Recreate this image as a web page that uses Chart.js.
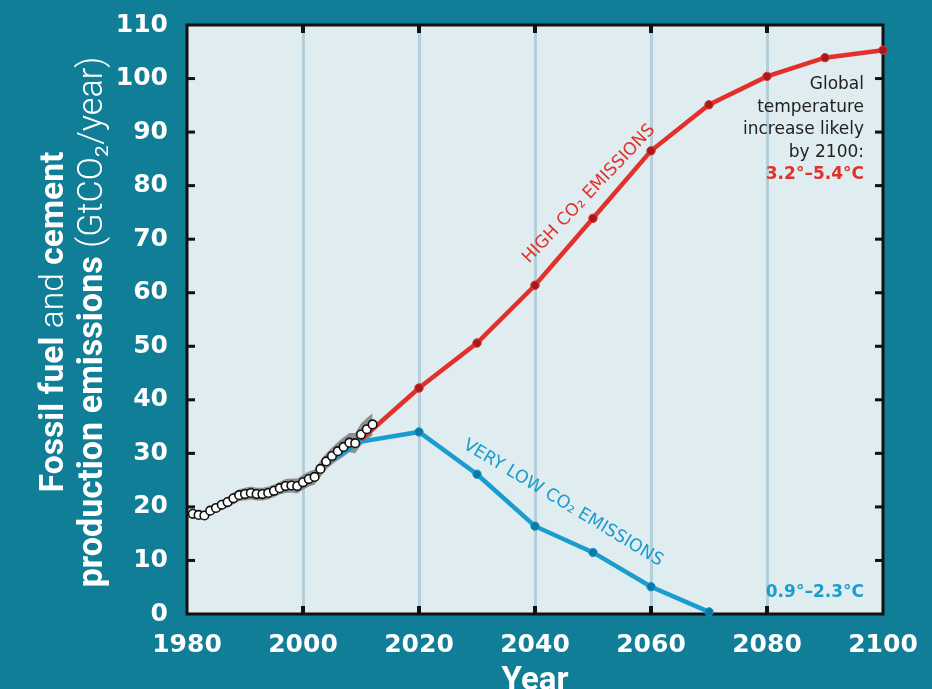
<!DOCTYPE html>
<html><head><meta charset="utf-8">
<script src="https://cdn.jsdelivr.net/npm/chart.js@4.4.1/dist/chart.umd.min.js"></script>
<style>html,body{margin:0;padding:0;background:#107e97;overflow:hidden}#wrap{width:932px;height:689px;position:relative}</style>
</head><body><div id="wrap"><canvas id="c" width="932" height="689"></canvas></div>
<script>
// ---- data ----
const histYears = [1981,1982,1983,1984,1985,1986,1987,1988,1989,1990,1991,1992,1993,1994,1995,1996,1997,1998,1999,2000,2001,2002,2003,2004,2005,2006,2007,2008,2009,2010,2011,2012];
const histValues = [18.7,18.5,18.4,19.3,19.8,20.4,20.9,21.6,22.2,22.4,22.6,22.4,22.4,22.6,23.0,23.5,23.9,24.0,23.9,24.6,25.2,25.6,27.1,28.5,29.5,30.4,31.2,32.0,31.9,33.5,34.5,35.4];
const bandUpper = [19.4,19.2,19.2,20.1,20.7,21.3,21.9,22.7,23.3,23.6,23.8,23.6,23.6,23.8,24.2,24.7,25.2,25.3,25.3,26.0,26.6,27.0,28.6,30.0,31.1,32.1,33.0,33.8,33.8,35.6,36.6,37.5];
const bandLower = [18.0,17.8,17.6,18.5,18.9,19.4,19.9,20.5,21.1,21.2,21.4,21.2,21.2,21.4,21.8,22.3,22.6,22.7,22.5,23.2,23.8,24.2,25.6,27.0,27.9,28.7,29.4,30.2,30.0,31.5,32.5,33.4];
const highYears = [2010,2020,2030,2040,2050,2060,2070,2080,2090,2100];
const highValues = [32.6,42.2,50.6,61.4,73.9,86.5,95.1,100.4,103.9,105.3];
const lowYears = [2005,2010,2020,2030,2040,2050,2060,2070];
const lowValues = [28.8,32.2,34.0,26.1,16.4,11.5,5.1,0.4];
const xTickLabels = [1980,2000,2020,2040,2060,2080,2100];
const yTickLabels = [0,10,20,30,40,50,60,70,80,90,100,110];
const gridYears = [2000,2020,2040,2060,2080];

const pts = (xs, ys) => xs.map((x,i)=>({x, y: ys[i]}));
const RED='#e2312b', REDDOT='#a51b1d', BLUE='#1b9cce', BLUEDOT='#0a7aa3';

const decor = {
  id:'decor',
  beforeDraw(chart){
    const {ctx, chartArea:a} = chart;
    ctx.save();
    ctx.fillStyle='#dfecf0';
    ctx.fillRect(a.left,a.top,a.right-a.left,a.bottom-a.top);
    ctx.restore();
  },
  beforeDatasetsDraw(chart){
    const {ctx, chartArea:a, scales:{x,y}} = chart;
    ctx.save();
    ctx.strokeStyle='#111';
    ctx.lineWidth=3;
    ctx.strokeRect(a.left,a.top,a.right-a.left,a.bottom-a.top);
    ctx.fillStyle='#111';
    yTickLabels.forEach(v=>{
      if(v===0||v===110) return;
      const py=y.getPixelForValue(v);
      ctx.fillRect(a.left, py-1.5, 8, 3);
      ctx.fillRect(a.right-8, py-1.5, 8, 3);
    });
    gridYears.forEach(v=>{
      const px=x.getPixelForValue(v);
      ctx.fillRect(px-2, a.bottom-8, 4, 8);
      ctx.fillRect(px-2, a.top, 4, 8);
    });
    ctx.restore();
  },
  afterDraw(chart){
    const {ctx, chartArea:a} = chart;
    ctx.save();
    function rotText(txt, cx, cy, ang, target, color, weight){
      ctx.save();
      ctx.translate(cx,cy); ctx.rotate(ang*Math.PI/180);
      ctx.font = weight+' 16px "DejaVu Sans"';
      const w = ctx.measureText(txt).width;
      const fs = 16*target/w;
      ctx.font = weight+' '+fs.toFixed(2)+'px "DejaVu Sans"';
      ctx.fillStyle=color; ctx.textAlign='center'; ctx.textBaseline='middle';
      ctx.fillText(txt,0,0);
      ctx.restore();
    }
    rotText('HIGH CO\u2082 EMISSIONS', 589, 194, -46.5, 184, RED, 'normal');
    rotText('VERY LOW CO\u2082 EMISSIONS', 563, 503, 31, 230, BLUE, 'normal');

    ctx.textAlign='right'; ctx.textBaseline='alphabetic';
    ctx.fillStyle='#222';
    ctx.font='17px "DejaVu Sans"';
    ['Global','temperature','increase likely','by 2100:'].forEach((t,i)=>ctx.fillText(t,864,89+i*22.5));
    ctx.fillStyle=RED; ctx.font='bold 17px "DejaVu Sans"';
    ctx.fillText('3.2\u00b0\u20135.4\u00b0C',864,179);
    ctx.fillStyle=BLUE;
    ctx.fillText('0.9\u00b0\u20132.3\u00b0C',864,597);

    ctx.fillStyle='#fff'; ctx.textAlign='center';
    ctx.font='bold 33px Roboto';
    ctx.fillText('Year',(a.left+a.right)/2,690);

    function mixedLine(segs, baseX, target){
      ctx.save();
      ctx.translate(baseX, 322); ctx.rotate(-Math.PI/2);
      const base=27;
      const mk=(s,fs)=>(s[1]?'bold ':'300 ')+fs+'px Roboto';
      let tw=0; segs.forEach(s=>{ctx.font=mk(s,base); tw+=ctx.measureText(s[0]).width;});
      const fs=base*target/tw;
      tw=0; segs.forEach(s=>{ctx.font=mk(s,fs); tw+=ctx.measureText(s[0]).width;});
      let cx=-tw/2;
      ctx.textAlign='left'; ctx.textBaseline='alphabetic'; ctx.fillStyle='#fff';
      segs.forEach(s=>{ctx.font=mk(s,fs); ctx.fillText(s[0],cx,0); cx+=ctx.measureText(s[0]).width;});
      ctx.restore();
    }
    mixedLine([['Fossil fuel ',1],['and',0],[' cement',1]], 63, 341);
    mixedLine([['production emissions ',1],['(GtCO\u2082/year)',0]], 102, 531);
    ctx.restore();
  }
};

new Chart(document.getElementById('c'), {
  type:'line',
  data:{ datasets:[
    { label:'Historical', data: pts(histYears, histValues), showLine:false, order:0,
      pointRadius:4.3, pointBackgroundColor:'#fff', pointBorderColor:'#111', pointBorderWidth:1.6, clip:false },
    { label:'High', data: pts(highYears, highValues), borderColor:RED, borderWidth:4.5, order:1,
      pointRadius: highYears.map((v,i)=>i===0?0:4.2), pointBackgroundColor:REDDOT, pointBorderColor:RED, pointBorderWidth:1, clip:false, tension:0 },
    { label:'Very low', data: pts(lowYears, lowValues), borderColor:BLUE, borderWidth:4.5, order:2,
      pointRadius: lowYears.map((v,i)=>i<2?0:4.2), pointBackgroundColor:BLUEDOT, pointBorderColor:BLUE, pointBorderWidth:1, clip:false, tension:0 },
    { label:'bandUpper', data: pts(histYears, bandUpper), borderWidth:0, pointRadius:0, fill:'+1', backgroundColor:'rgba(120,120,120,0.8)', order:3 },
    { label:'bandLower', data: pts(histYears, bandLower), borderWidth:0, pointRadius:0, fill:false, order:4 }
  ]},
  options:{
    responsive:false, animation:false, devicePixelRatio:1,
    layout:{padding:{top:25,right:49,left:0,bottom:0}},
    plugins:{legend:{display:false}, tooltip:{enabled:false}},
    scales:{
      x:{ type:'linear', min:1980, max:2100,
        afterBuildTicks(s){ s.ticks = xTickLabels.map(v=>({value:v})); },
        afterFit(s){ s.height=75; s.paddingLeft=0; s.paddingRight=0; },
        border:{display:false},
        grid:{ drawTicks:false, lineWidth:3, color:(c)=> gridYears.includes(c.tick && c.tick.value) ? '#b4cfdb' : 'rgba(0,0,0,0)' },
        ticks:{ color:'#fff', padding:16, font:{family:'DejaVu Sans', size:25, weight:'bold'}, maxRotation:0, autoSkip:false, callback:(v)=>String(v) }
      },
      y:{ min:0, max:110,
        afterBuildTicks(s){ s.ticks = yTickLabels.map(v=>({value:v})); },
        afterFit(s){ s.width=187; s.paddingTop=0; s.paddingBottom=0; },
        border:{display:false},
        grid:{ display:false, drawTicks:false },
        ticks:{ color:'#fff', padding:19, font:{family:'DejaVu Sans', size:25, weight:'bold'}, autoSkip:false, callback:(v)=>String(v) }
      }
    }
  },
  plugins:[decor]
});
</script>
</body></html>
